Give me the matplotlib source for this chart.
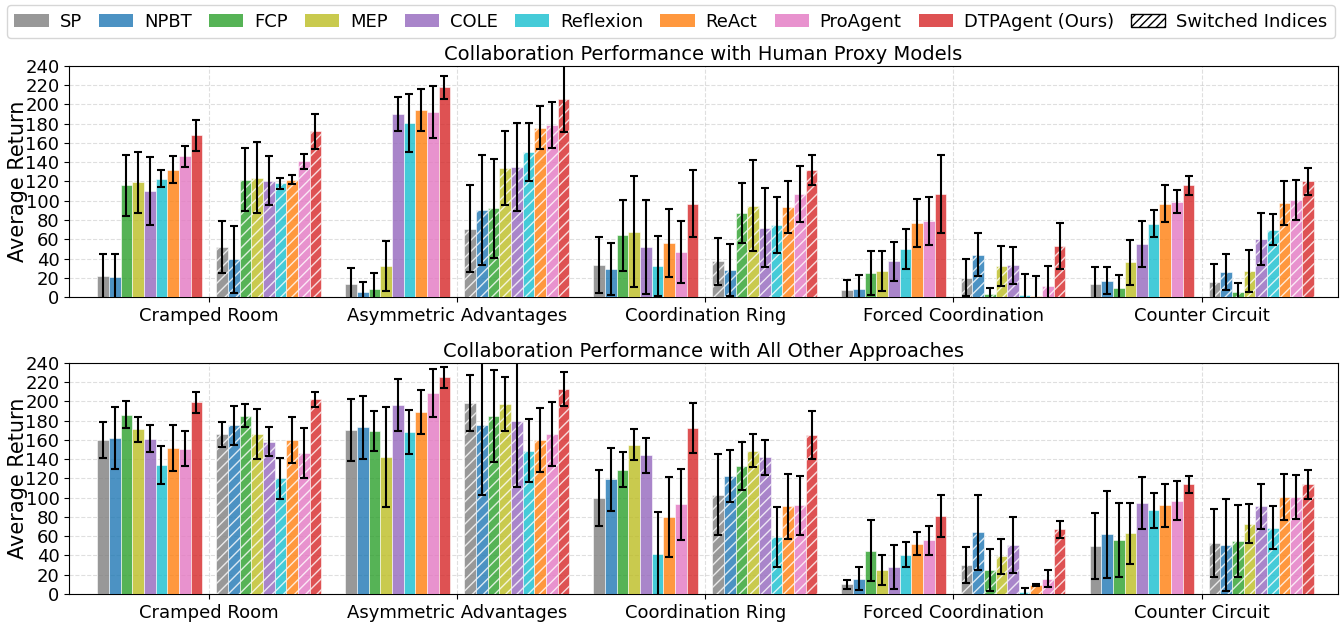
import numpy as np
import matplotlib
matplotlib.use("Agg")
import matplotlib.pyplot as plt
from matplotlib.patches import Patch

methods = ["SP", "NPBT", "FCP", "MEP", "COLE", "Reflexion", "ReAct", "ProAgent", "DTPAgent (Ours)"]
colors = ["tab:gray", "tab:blue", "tab:green", "tab:olive", "tab:purple",
          "tab:cyan", "tab:orange", "tab:pink", "tab:red"]
layouts = ["Cramped Room", "Asymmetric Advantages", "Coordination Ring",
           "Forced Coordination", "Counter Circuit"]

# human proxy: rows = layouts, cols = methods
hp_mean = [
    [22, 21, 116, 119, 110, 123, 132, 146, 168],
    [14, 5, 8, 32, 190, 181, 194, 192, 218],
    [33, 29, 64, 68, 52, 32, 56, 47, 97],
    [7, 8, 25, 27, 37, 50, 77, 79, 107],
    [14, 17, 9, 36, 55, 76, 97, 99, 116],
]
hp_err = [
    [23, 24, 32, 32, 35, 9, 14, 11, 16],
    [16, 11, 17, 26, 18, 30, 22, 27, 12],
    [29, 27, 37, 58, 49, 31, 35, 32, 35],
    [11, 15, 23, 21, 20, 21, 25, 25, 41],
    [17, 14, 14, 23, 24, 14, 19, 12, 10],
]
hp_sw_mean = [
    [52, 39, 122, 124, 121, 118, 122, 141, 172],
    [71, 90, 92, 134, 135, 151, 176, 179, 206],
    [37, 28, 87, 95, 72, 75, 93, 107, 132],
    [20, 44, 3, 32, 33, 2, 1, 11, 53],
    [16, 26, 5, 27, 60, 70, 98, 101, 120],
]
hp_sw_err = [
    [27, 35, 33, 37, 25, 6, 5, 8, 18],
    [45, 57, 51, 38, 46, 30, 22, 24, 35],
    [24, 27, 31, 47, 41, 29, 27, 29, 16],
    [19, 22, 6, 21, 19, 22, 21, 21, 24],
    [18, 19, 10, 22, 27, 16, 23, 21, 14],
]

# all other approaches
ao_mean = [
    [160, 162, 186, 171, 161, 134, 152, 151, 199],
    [170, 173, 169, 142, 196, 168, 189, 209, 225],
    [100, 119, 129, 155, 144, 42, 80, 93, 172],
    [10, 16, 45, 25, 28, 41, 52, 56, 81],
    [50, 62, 56, 63, 94, 87, 92, 97, 114],
]
ao_err = [
    [19, 32, 14, 13, 14, 20, 24, 18, 11],
    [32, 33, 21, 52, 27, 23, 23, 25, 11],
    [29, 33, 18, 16, 18, 43, 42, 37, 26],
    [5, 12, 32, 16, 23, 13, 12, 15, 22],
    [34, 45, 38, 32, 27, 18, 22, 20, 9],
]
ao_sw_mean = [
    [166, 175, 185, 166, 158, 120, 160, 146, 202],
    [198, 176, 185, 197, 180, 149, 160, 166, 213],
    [103, 123, 133, 149, 142, 59, 91, 92, 165],
    [30, 64, 25, 39, 51, 2, 9, 16, 67],
    [53, 51, 55, 73, 91, 69, 101, 101, 114],
]
ao_sw_err = [
    [13, 20, 12, 26, 15, 21, 24, 26, 8],
    [29, 73, 48, 28, 69, 33, 33, 33, 18],
    [42, 27, 25, 17, 18, 31, 34, 31, 25],
    [19, 39, 22, 18, 29, 4, 1, 9, 9],
    [35, 48, 37, 20, 23, 22, 24, 23, 15],
]

titles = ["Collaboration Performance with Human Proxy Models",
          "Collaboration Performance with All Other Approaches"]

fig, axes = plt.subplots(2, 1, figsize=(13.42, 6.22), dpi=100)
plt.subplots_adjust(left=0.0515, right=0.997, top=0.894, bottom=0.045, hspace=0.285)

w = 0.047
off = 0.24
x = np.arange(len(layouts))
panels = [(hp_mean, hp_err, hp_sw_mean, hp_sw_err), (ao_mean, ao_err, ao_sw_mean, ao_sw_err)]

for ax, (m, e, sm, se), title in zip(axes, panels, titles):
    m, e, sm, se = map(np.array, (m, e, sm, se))
    for j, c in enumerate(colors):
        pos = x - off + (j - 4) * w
        ax.bar(pos, m[:, j], w, yerr=e[:, j], color=c, alpha=0.8, edgecolor="white",
               linewidth=0.5, capsize=3, error_kw=dict(ecolor="black", elinewidth=1.5, capthick=1.5), zorder=3)
        pos2 = x + off + (j - 4) * w
        ax.bar(pos2, sm[:, j], w, yerr=se[:, j], color=c, alpha=0.8, edgecolor="white",
               linewidth=0.5, hatch="///", capsize=3,
               error_kw=dict(ecolor="black", elinewidth=1.5, capthick=1.5), zorder=3)
    ax.set_xticks(x)
    ax.set_xticklabels(layouts, fontsize=13)
    ax.set_yticks(np.arange(0, 241, 20))
    ax.tick_params(axis="y", labelsize=13)
    ax.set_ylim(0, 240)
    ax.set_xlim(-0.565, 4.55)
    ax.set_ylabel("Average Return", fontsize=15, labelpad=-2)
    ax.set_title(title, fontsize=14, pad=4)
    ax.grid(True, linestyle="--", alpha=0.4, zorder=0)
    ax.set_axisbelow(True)

handles = [Patch(facecolor=c, alpha=0.8, label=n) for c, n in zip(colors, methods)]
handles.append(Patch(facecolor="white", edgecolor="black", hatch="////", label="Switched Indices"))
fig.legend(handles=handles, loc="upper center", ncol=10, fontsize=13,
           bbox_to_anchor=(0.5, 1.0), borderaxespad=0.3,
           columnspacing=0.95, handletextpad=0.6, handlelength=1.9)

plt.savefig("out.png", dpi=100)
